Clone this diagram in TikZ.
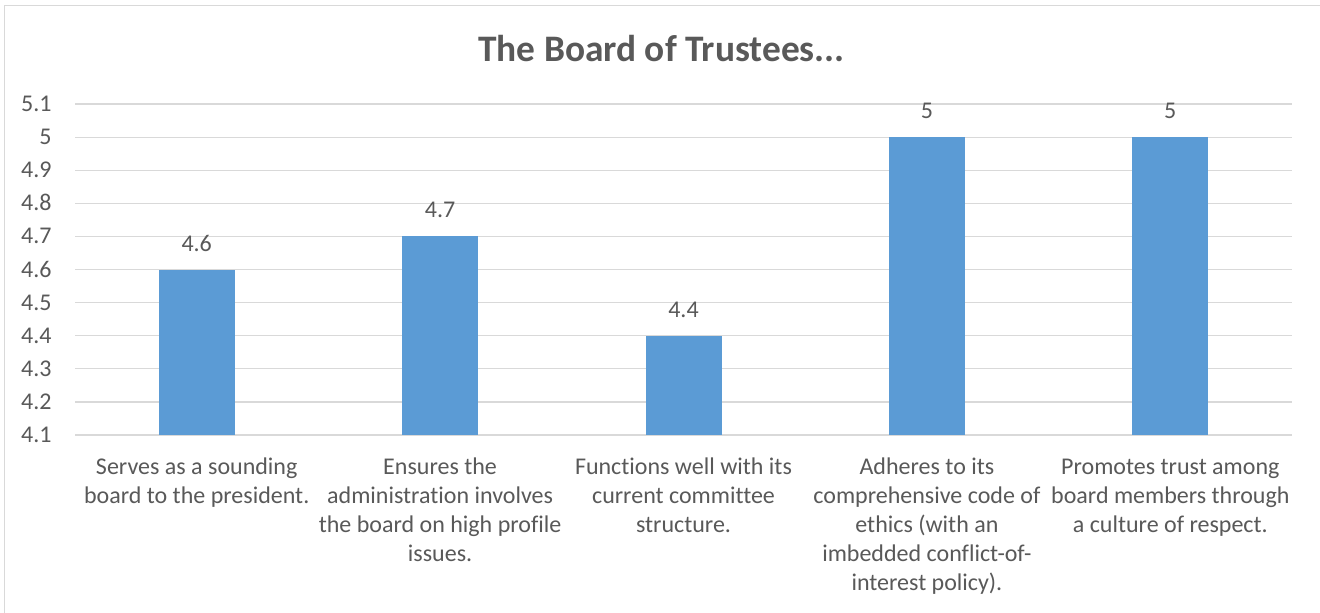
\documentclass[tikz,border=0pt]{standalone}
\usepackage{fontspec}
\setmainfont{Carlito}[Ligatures=NoCommon]
\definecolor{txt}{HTML}{595959}
\definecolor{grid}{HTML}{D9D9D9}
\definecolor{barc}{HTML}{5B9BD5}
\newcommand{\catlines}[1]{\begin{tabular}[t]{@{}c@{}}#1\end{tabular}}
\begin{document}
\begin{tikzpicture}[x=0.5pt,y=-0.5pt,
  gridline/.style={draw=grid,line width=0.6pt},
  ylab/.style={anchor=base east,inner sep=0pt,text=txt,font=\fontsize{12}{14.5}\selectfont},
  vlab/.style={anchor=base,inner sep=0pt,text=txt,font=\fontsize{12}{14.5}\selectfont},
  catlab/.style={anchor=base,inner sep=0pt,text=txt,font=\fontsize{12}{14.5}\selectfont},
  barbox/.style={fill=barc,draw=none},
  frame/.style={draw=grid,line width=0.6pt}]
\useasboundingbox (0,0) rectangle (1320,612);
\fill[white] (0,0) rectangle (1320,612);
\draw[frame] (4.5,640) -- (4.5,5.5) -- (1340,5.5);
% title
\node[anchor=base,inner sep=0pt,text=txt,font=\fontsize{18.7}{22}\selectfont\bfseries] (title) at (661.5,61.5) {The Board of Trustees...};
% gridlines and y labels
\foreach \i/\lab in {0/4.1,1/4.2,2/4.3,3/4.4,4/4.5,5/4.6,6/4.7,7/4.8,8/4.9,9/5,10/5.1}{
  \draw[gridline] (75,{435-\i*33.1}) -- (1292,{435-\i*33.1});
  \node[ylab] (y\i) at (52,{442.5-\i*33.1}) {\lab};
}
% bars
\foreach \k/\v/\lab in {1/4.6/4.6,2/4.7/4.7,3/4.4/4.4,4/5/5,5/5/5}{
  \pgfmathsetmacro{\cx}{75+243.4*(\k-0.5)}
  \pgfmathsetmacro{\top}{435-(\v-4.1)*331}
  \fill[barbox] ({\cx-38},435) rectangle ({\cx+38},\top);
  \node[vlab] (v\k) at (\cx,{\top-18.5}) {\lab};
}
% category labels
\node[catlab] (c1) at (196.7,474.3) {\catlines{Serves as a sounding\\board to the president.}};
\node[catlab] (c2) at (440.1,474.3) {\catlines{Ensures the\\administration involves\\the board on high profile\\issues.}};
\node[catlab] (c3) at (683.5,474.3) {\catlines{Functions well with its\\current committee\\structure.}};
\node[catlab] (c4) at (926.9,474.3) {\catlines{Adheres to its\\comprehensive code of\\ethics (with an\\imbedded conflict-of-\\interest policy).}};
\node[catlab] (c5) at (1170.3,474.3) {\catlines{Promotes trust among\\board members through\\a culture of respect.}};
\end{tikzpicture}
\end{document}
